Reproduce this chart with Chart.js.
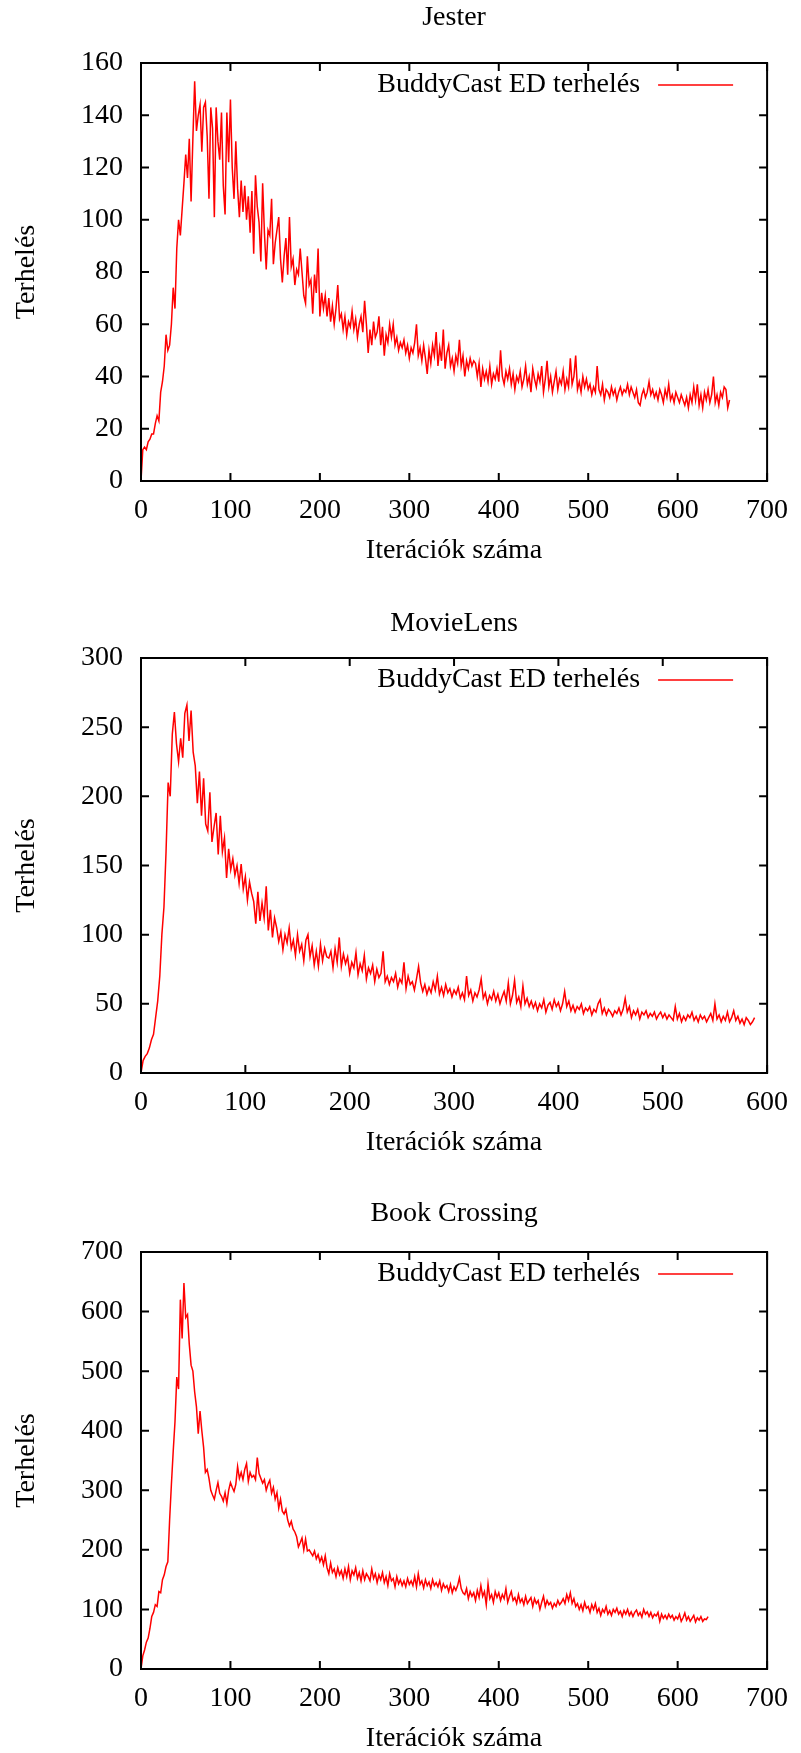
<!DOCTYPE html>
<html><head><meta charset="utf-8">
<script src="https://cdn.jsdelivr.net/npm/chart.js@4.4.0/dist/chart.umd.min.js"></script>
<style>
html,body{margin:0;padding:0;background:#fff;}
body{width:801px;height:1753px;position:relative;overflow:hidden;}
canvas{position:absolute;left:0;}
</style></head><body>
<canvas id="c1" width="801" height="567" style="top:0px"></canvas>
<canvas id="c2" width="801" height="564" style="top:595px"></canvas>
<canvas id="c3" width="801" height="566" style="top:1189px"></canvas>
<script>
const STEP = 2; // iterations between stored samples
const seriesLabel = 'BuddyCast ED terhelés';
const xAxisLabel = 'Iterációk száma';
const yAxisLabel = 'Terhelés';
const chartTitles = ['Jester', 'MovieLens', 'Book Crossing'];

const jesterXTicks = [0,100,200,300,400,500,600,700];
const jesterYTicks = [0,20,40,60,80,100,120,140,160];
const movielensXTicks = [0,100,200,300,400,500,600];
const movielensYTicks = [0,50,100,150,200,250,300];
const bookXTicks = [0,100,200,300,400,500,600,700];
const bookYTicks = [0,100,200,300,400,500,600,700];

const jesterLoad = [
0,12,13,12,15,16,18,18,22,25,
23,34,38,44,56,50,52,60,74,66,
89,100,94,104,114,125,116,131,107,131,
153,134,140,144,126,143,145,132,108,143,
135,101,143,130,123,141,113,102,141,122,
146,120,108,130,112,101,115,103,113,100,
109,95,111,87,117,105,99,84,114,95,
81,96,94,108,83,91,96,101,85,76,
86,93,79,101,82,85,75,81,79,89,
80,71,68,86,75,77,64,79,72,89,
63,72,66,71,63,70,61,67,60,66,
75,62,64,58,63,56,61,59,65,58,
62,55,60,63,57,69,60,49,58,52,
61,55,57,63,52,59,48,56,53,60,
55,60,52,55,50,53,51,54,49,52,
47,51,49,53,60,48,51,46,52,47,
41,50,45,52,48,57,44,51,46,58,
43,49,52,44,47,42,48,45,54,44,
48,40,46,43,47,44,46,45,40,45,
36,43,39,42,38,44,37,41,39,43,
38,50,40,37,42,39,43,37,41,35,
40,38,42,36,39,44,37,40,34,43,
39,36,41,38,44,34,39,46,36,40,
34,38,42,35,39,37,42,35,39,36,
47,37,40,48,35,38,34,40,36,39,
35,37,33,36,34,44,35,33,37,31,
35,34,32,36,33,35,31,34,36,33,
35,34,37,33,36,34,32,35,30,29,
33,35,32,34,38,33,35,32,34,31,
35,33,30,35,32,37,31,33,30,34,
32,30,33,31,29,32,28,33,30,36,
31,37,29,33,28,34,31,35,30,33,
40,30,33,29,34,32,36,35,28,31];

const movielensLoad = [
0,9,12,14,18,24,28,40,52,70,
100,120,160,210,200,245,261,238,225,242,
228,260,266,240,262,232,222,195,218,186,
213,180,175,203,167,178,188,158,186,160,
170,141,162,147,155,143,150,137,151,133,
142,125,138,130,124,108,131,110,123,112,
135,103,118,98,112,105,95,102,89,100,
94,105,90,96,85,100,88,93,81,96,
100,84,92,78,88,77,93,81,90,84,
83,88,76,90,80,98,77,86,79,84,
72,80,76,87,71,79,74,85,68,76,
72,78,66,75,69,72,88,66,70,64,
69,66,72,62,68,65,80,61,70,64,
66,60,68,77,65,59,64,57,62,58,
66,60,70,57,62,56,64,58,61,55,
60,57,62,54,58,53,70,56,60,52,
58,55,60,68,54,58,50,56,53,59,
52,57,50,55,59,52,65,50,56,67,
51,55,48,63,50,54,48,52,47,51,
45,50,47,53,44,49,51,46,53,48,
51,45,50,59,48,52,45,49,44,48,
46,50,43,47,45,48,42,46,44,50,
53,43,47,42,46,44,41,45,43,47,
42,46,54,44,48,40,45,42,46,39,
44,42,45,40,43,41,44,39,42,44,
40,43,39,42,40,38,48,39,43,37,
41,38,42,40,44,38,41,37,42,39,
41,37,40,43,38,50,39,42,37,41,
38,44,37,40,45,38,41,36,39,35,
40,38,35,37,40];

const bookLoad = [
0,22,32,45,52,68,88,95,108,105,
130,128,150,158,172,180,250,310,365,415,
490,470,620,555,648,590,595,545,510,500,
465,440,395,433,400,372,330,335,320,300,
292,285,300,313,295,290,282,296,278,300,
313,305,298,310,340,320,330,318,335,345,
315,330,322,325,318,355,328,320,312,318,
300,310,317,295,305,285,296,270,285,265,
260,268,250,240,248,235,230,222,205,212,
220,200,218,198,200,195,190,198,185,192,
180,188,175,190,170,160,178,162,168,155,
170,158,165,152,168,155,172,150,165,158,
170,152,162,148,165,150,160,155,148,168,
152,160,145,158,150,162,145,155,140,160,
148,152,138,155,143,150,140,148,138,152,
142,148,140,155,138,160,142,148,136,150,
140,146,135,150,140,145,138,148,132,143,
136,140,130,142,128,138,132,140,153,135,
128,125,135,118,130,122,128,115,132,120,
140,122,130,108,143,118,125,112,130,120,
128,115,125,118,135,112,122,130,115,120,
110,125,112,118,108,122,110,115,120,105,
118,110,115,100,112,122,105,115,108,112,
102,110,105,115,108,112,118,110,125,115,
128,110,118,105,110,100,108,98,112,102,
105,95,108,100,110,95,102,90,100,95,
105,92,98,90,100,95,102,92,97,88,
98,92,100,90,96,88,95,99,90,95,
87,100,92,96,88,95,86,92,89,95,
80,92,85,90,84,92,86,90,82,88,
84,92,80,86,94,82,88,80,85,90,
79,86,82,88,80,84,83,88];

const FONT_FAMILY = "'Liberation Serif', 'Times New Roman', Times, serif";
const FONT_SIZE = 28;
const LINE_H = FONT_SIZE * 1.2;
const PLOT_TOP = 63;
Chart.defaults.font.family = FONT_FAMILY;
Chart.defaults.font.size = FONT_SIZE;
Chart.defaults.color = '#000';

// gnuplot-like frame, inward ticks on all sides, legend inside top-right
const framePlugin = {
  id: 'gnuframe',
  afterDatasetsDraw(chart) {
    const {ctx, chartArea: a, scales: {x, y}} = chart;
    const tl = 8;
    ctx.save();
    ctx.strokeStyle = '#000';
    ctx.lineWidth = 2;
    ctx.beginPath();
    x.ticks.forEach(t => {
      const px = x.getPixelForValue(t.value);
      ctx.moveTo(px, a.bottom); ctx.lineTo(px, a.bottom - tl);
      ctx.moveTo(px, a.top); ctx.lineTo(px, a.top + tl);
    });
    y.ticks.forEach(t => {
      const py = y.getPixelForValue(t.value);
      ctx.moveTo(a.left, py); ctx.lineTo(a.left + tl, py);
      ctx.moveTo(a.right, py); ctx.lineTo(a.right - tl, py);
    });
    ctx.stroke();
    ctx.strokeRect(a.left, a.top, a.right - a.left, a.bottom - a.top);
    // legend
    const ds = chart.data.datasets[0];
    const ly = a.top + 22;
    ctx.font = FONT_SIZE + 'px ' + FONT_FAMILY;
    ctx.fillStyle = '#000';
    ctx.textAlign = 'right';
    ctx.textBaseline = 'middle';
    ctx.fillText(ds.label, a.right - 127, ly);
    ctx.strokeStyle = ds.borderColor;
    ctx.lineWidth = 1.4;
    ctx.beginPath();
    ctx.moveTo(a.right - 109, ly);
    ctx.lineTo(a.right - 34, ly);
    ctx.stroke();
    ctx.restore();
  }
};

function buildChart(id, title, values, xTicks, yTicks, plotBottom, titleCenter) {
  const canvas = document.getElementById(id);
  const H = canvas.height;
  const X_H = 86.6;
  const tPadTop = titleCenter - LINE_H / 2;
  const tPadBottom = PLOT_TOP - LINE_H - tPadTop;
  return new Chart(canvas, {
    type: 'line',
    data: {
      datasets: [{
        label: seriesLabel,
        data: values.map((v, i) => ({x: i * STEP, y: v})),
        borderColor: 'rgb(255,0,0)',
        borderWidth: 1.5,
        pointRadius: 0,
        fill: false,
        tension: 0
      }]
    },
    options: {
      responsive: false,
      animation: false,
      devicePixelRatio: 1,
      layout: {padding: {left: 0, right: 29, top: 0, bottom: H - plotBottom - X_H}},
      plugins: {
        legend: {display: false},
        tooltip: {enabled: false},
        title: {
          display: true, text: title, fullSize: false, color: '#000',
          font: {size: FONT_SIZE, weight: 'normal'},
          padding: {top: tPadTop, bottom: tPadBottom}
        }
      },
      scales: {
        x: {
          type: 'linear', min: xTicks[0], max: xTicks[xTicks.length - 1],
          afterBuildTicks: s => { s.ticks = xTicks.map(v => ({value: v})); },
          afterFit: s => { s.height = X_H; },
          grid: {display: false, drawTicks: false},
          border: {display: false},
          ticks: {padding: 12.9, color: '#000', maxRotation: 0, autoSkip: false, font: {size: FONT_SIZE}},
          title: {display: true, text: xAxisLabel, color: '#000', font: {size: FONT_SIZE}, padding: {top: 0, bottom: 0}}
        },
        y: {
          type: 'linear', min: yTicks[0], max: yTicks[yTicks.length - 1],
          afterBuildTicks: s => { s.ticks = yTicks.map(v => ({value: v})); },
          afterFit: s => { s.width = 141; },
          grid: {display: false, drawTicks: false},
          border: {display: false},
          ticks: {padding: 18, color: '#000', autoSkip: false, font: {size: FONT_SIZE}},
          title: {display: true, text: yAxisLabel, color: '#000', font: {size: FONT_SIZE}, padding: {top: 9.5, bottom: 0}}
        }
      }
    },
    plugins: [framePlugin]
  });
}

buildChart('c1', chartTitles[0], jesterLoad, jesterXTicks, jesterYTicks, 481, 18);
buildChart('c2', chartTitles[1], movielensLoad, movielensXTicks, movielensYTicks, 478, 29);
buildChart('c3', chartTitles[2], bookLoad, bookXTicks, bookYTicks, 480, 24.5);
</script>
</body></html>
